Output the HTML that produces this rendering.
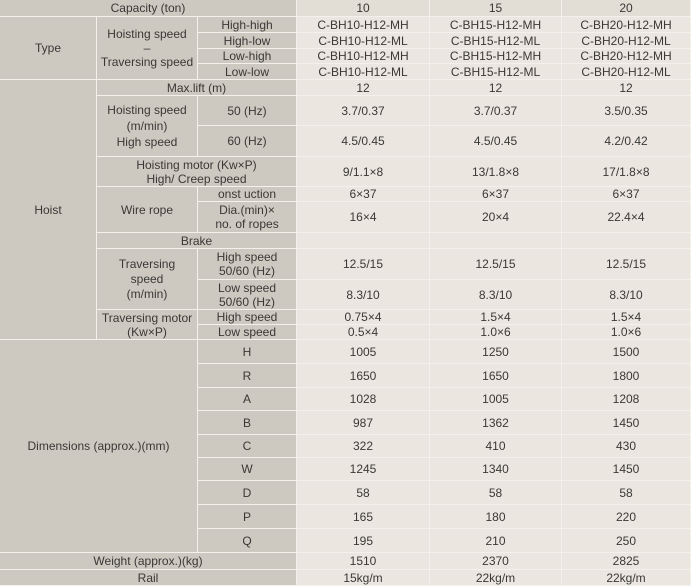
<!DOCTYPE html>
<html><head><meta charset="utf-8"><style>
*{margin:0;padding:0;box-sizing:border-box}
body{width:691px;height:586px;overflow:hidden;background:#ebe7e0;font-family:"Liberation Sans",Arial,sans-serif;font-size:12px;color:#3a3835;position:relative}
.c{position:absolute;display:flex;align-items:center;justify-content:center;text-align:center;line-height:14px;border-right:1px solid #f3f1ec;border-bottom:1px solid #f3f1ec}
.g{background:#cdc9c1}
.w{background:#ebe7e0}
.h{background:#e2ded6}
</style></head><body>
<div class="c g" style="left:0;top:0;width:297px;height:17px">Capacity (ton)</div>
<div class="c h" style="left:297px;top:0;width:133px;height:17px">10</div>
<div class="c h" style="left:430px;top:0;width:132px;height:17px">15</div>
<div class="c h" style="left:562px;top:0;width:129px;height:17px">20</div>

<div class="c g" style="left:0;top:17px;width:97px;height:63px">Type</div>
<div class="c g" style="left:97px;top:17px;width:101px;height:63px">Hoisting speed<br>–<br>Traversing speed</div>
<div class="c g" style="left:198px;top:17px;width:99px;height:16px">High-high</div>
<div class="c g" style="left:198px;top:33px;width:99px;height:16px">High-low</div>
<div class="c g" style="left:198px;top:49px;width:99px;height:15px">Low-high</div>
<div class="c g" style="left:198px;top:64px;width:99px;height:16px">Low-low</div>
<div class="c w" style="left:297px;top:17px;width:133px;height:16px">C-BH10-H12-MH</div>
<div class="c w" style="left:297px;top:33px;width:133px;height:16px">C-BH10-H12-ML</div>
<div class="c w" style="left:297px;top:49px;width:133px;height:15px">C-BH10-H12-MH</div>
<div class="c w" style="left:297px;top:64px;width:133px;height:16px">C-BH10-H12-ML</div>
<div class="c w" style="left:430px;top:17px;width:132px;height:16px">C-BH15-H12-MH</div>
<div class="c w" style="left:430px;top:33px;width:132px;height:16px">C-BH15-H12-ML</div>
<div class="c w" style="left:430px;top:49px;width:132px;height:15px">C-BH15-H12-MH</div>
<div class="c w" style="left:430px;top:64px;width:132px;height:16px">C-BH15-H12-ML</div>
<div class="c w" style="left:562px;top:17px;width:129px;height:16px">C-BH20-H12-MH</div>
<div class="c w" style="left:562px;top:33px;width:129px;height:16px">C-BH20-H12-ML</div>
<div class="c w" style="left:562px;top:49px;width:129px;height:15px">C-BH20-H12-MH</div>
<div class="c w" style="left:562px;top:64px;width:129px;height:16px">C-BH20-H12-ML</div>

<div class="c g" style="left:0;top:80px;width:97px;height:260px">Hoist</div>
<div class="c g" style="left:97px;top:80px;width:200px;height:16px">Max.lift (m)</div>
<div class="c w" style="left:297px;top:80px;width:133px;height:16px">12</div>
<div class="c w" style="left:430px;top:80px;width:132px;height:16px">12</div>
<div class="c w" style="left:562px;top:80px;width:129px;height:16px">12</div>

<div class="c g" style="left:97px;top:96px;width:101px;height:61px;line-height:16px">Hoisting speed<br>(m/min)<br>High speed</div>
<div class="c g" style="left:198px;top:96px;width:99px;height:30px">50 (Hz)</div>
<div class="c g" style="left:198px;top:126px;width:99px;height:31px">60 (Hz)</div>
<div class="c w" style="left:297px;top:96px;width:133px;height:30px">3.7/0.37</div>
<div class="c w" style="left:430px;top:96px;width:132px;height:30px">3.7/0.37</div>
<div class="c w" style="left:562px;top:96px;width:129px;height:30px">3.5/0.35</div>
<div class="c w" style="left:297px;top:126px;width:133px;height:31px">4.5/0.45</div>
<div class="c w" style="left:430px;top:126px;width:132px;height:31px">4.5/0.45</div>
<div class="c w" style="left:562px;top:126px;width:129px;height:31px">4.2/0.42</div>

<div class="c g" style="left:97px;top:157px;width:200px;height:30px">Hoisting motor (Kw×P)<br>High/ Creep speed</div>
<div class="c w" style="left:297px;top:157px;width:133px;height:30px">9/1.1×8</div>
<div class="c w" style="left:430px;top:157px;width:132px;height:30px">13/1.8×8</div>
<div class="c w" style="left:562px;top:157px;width:129px;height:30px">17/1.8×8</div>

<div class="c g" style="left:97px;top:187px;width:101px;height:46px">Wire rope</div>
<div class="c g" style="left:198px;top:187px;width:99px;height:15px">onst uction</div>
<div class="c g" style="left:198px;top:202px;width:99px;height:31px">Dia.(min)×<br>no. of ropes</div>
<div class="c w" style="left:297px;top:187px;width:133px;height:15px">6×37</div>
<div class="c w" style="left:430px;top:187px;width:132px;height:15px">6×37</div>
<div class="c w" style="left:562px;top:187px;width:129px;height:15px">6×37</div>
<div class="c w" style="left:297px;top:202px;width:133px;height:31px">16×4</div>
<div class="c w" style="left:430px;top:202px;width:132px;height:31px">20×4</div>
<div class="c w" style="left:562px;top:202px;width:129px;height:31px">22.4×4</div>

<div class="c g" style="left:97px;top:233px;width:200px;height:16px">Brake</div>
<div class="c w" style="left:297px;top:233px;width:133px;height:16px"></div>
<div class="c w" style="left:430px;top:233px;width:132px;height:16px"></div>
<div class="c w" style="left:562px;top:233px;width:129px;height:16px"></div>

<div class="c g" style="left:97px;top:249px;width:101px;height:61px;line-height:15px">Traversing<br>speed<br>(m/min)</div>
<div class="c g" style="left:198px;top:249px;width:99px;height:31px">High speed<br>50/60 (Hz)</div>
<div class="c g" style="left:198px;top:280px;width:99px;height:30px">Low speed<br>50/60 (Hz)</div>
<div class="c w" style="left:297px;top:249px;width:133px;height:31px">12.5/15</div>
<div class="c w" style="left:430px;top:249px;width:132px;height:31px">12.5/15</div>
<div class="c w" style="left:562px;top:249px;width:129px;height:31px">12.5/15</div>
<div class="c w" style="left:297px;top:280px;width:133px;height:30px">8.3/10</div>
<div class="c w" style="left:430px;top:280px;width:132px;height:30px">8.3/10</div>
<div class="c w" style="left:562px;top:280px;width:129px;height:30px">8.3/10</div>

<div class="c g" style="left:97px;top:310px;width:101px;height:30px">Traversing motor<br>(Kw×P)</div>
<div class="c g" style="left:198px;top:310px;width:99px;height:15px">High speed</div>
<div class="c g" style="left:198px;top:325px;width:99px;height:15px">Low speed</div>
<div class="c w" style="left:297px;top:310px;width:133px;height:15px">0.75×4</div>
<div class="c w" style="left:430px;top:310px;width:132px;height:15px">1.5×4</div>
<div class="c w" style="left:562px;top:310px;width:129px;height:15px">1.5×4</div>
<div class="c w" style="left:297px;top:325px;width:133px;height:15px">0.5×4</div>
<div class="c w" style="left:430px;top:325px;width:132px;height:15px">1.0×6</div>
<div class="c w" style="left:562px;top:325px;width:129px;height:15px">1.0×6</div>

<div class="c g" style="left:0;top:340px;width:198px;height:213px">Dimensions (approx.)(mm)</div>

<div class="c g" style="left:198px;top:340px;width:99px;height:24px">H</div>
<div class="c w" style="left:297px;top:340px;width:133px;height:24px">1005</div>
<div class="c w" style="left:430px;top:340px;width:132px;height:24px">1250</div>
<div class="c w" style="left:562px;top:340px;width:129px;height:24px">1500</div>
<div class="c g" style="left:198px;top:364px;width:99px;height:24px">R</div>
<div class="c w" style="left:297px;top:364px;width:133px;height:24px">1650</div>
<div class="c w" style="left:430px;top:364px;width:132px;height:24px">1650</div>
<div class="c w" style="left:562px;top:364px;width:129px;height:24px">1800</div>
<div class="c g" style="left:198px;top:388px;width:99px;height:23px">A</div>
<div class="c w" style="left:297px;top:388px;width:133px;height:23px">1028</div>
<div class="c w" style="left:430px;top:388px;width:132px;height:23px">1005</div>
<div class="c w" style="left:562px;top:388px;width:129px;height:23px">1208</div>
<div class="c g" style="left:198px;top:411px;width:99px;height:24px">B</div>
<div class="c w" style="left:297px;top:411px;width:133px;height:24px">987</div>
<div class="c w" style="left:430px;top:411px;width:132px;height:24px">1362</div>
<div class="c w" style="left:562px;top:411px;width:129px;height:24px">1450</div>
<div class="c g" style="left:198px;top:435px;width:99px;height:23px">C</div>
<div class="c w" style="left:297px;top:435px;width:133px;height:23px">322</div>
<div class="c w" style="left:430px;top:435px;width:132px;height:23px">410</div>
<div class="c w" style="left:562px;top:435px;width:129px;height:23px">430</div>
<div class="c g" style="left:198px;top:458px;width:99px;height:23px">W</div>
<div class="c w" style="left:297px;top:458px;width:133px;height:23px">1245</div>
<div class="c w" style="left:430px;top:458px;width:132px;height:23px">1340</div>
<div class="c w" style="left:562px;top:458px;width:129px;height:23px">1450</div>
<div class="c g" style="left:198px;top:481px;width:99px;height:24px">D</div>
<div class="c w" style="left:297px;top:481px;width:133px;height:24px">58</div>
<div class="c w" style="left:430px;top:481px;width:132px;height:24px">58</div>
<div class="c w" style="left:562px;top:481px;width:129px;height:24px">58</div>
<div class="c g" style="left:198px;top:505px;width:99px;height:24px">P</div>
<div class="c w" style="left:297px;top:505px;width:133px;height:24px">165</div>
<div class="c w" style="left:430px;top:505px;width:132px;height:24px">180</div>
<div class="c w" style="left:562px;top:505px;width:129px;height:24px">220</div>
<div class="c g" style="left:198px;top:529px;width:99px;height:24px">Q</div>
<div class="c w" style="left:297px;top:529px;width:133px;height:24px">195</div>
<div class="c w" style="left:430px;top:529px;width:132px;height:24px">210</div>
<div class="c w" style="left:562px;top:529px;width:129px;height:24px">250</div>

<div class="c g" style="left:0;top:553px;width:297px;height:17px">Weight (approx.)(kg)</div>
<div class="c w" style="left:297px;top:553px;width:133px;height:17px">1510</div>
<div class="c w" style="left:430px;top:553px;width:132px;height:17px">2370</div>
<div class="c w" style="left:562px;top:553px;width:129px;height:17px">2825</div>
<div class="c g" style="left:0;top:570px;width:297px;height:16px">Rail</div>
<div class="c w" style="left:297px;top:570px;width:133px;height:16px">15kg/m</div>
<div class="c w" style="left:430px;top:570px;width:132px;height:16px">22kg/m</div>
<div class="c w" style="left:562px;top:570px;width:129px;height:16px">22kg/m</div>
</body></html>
